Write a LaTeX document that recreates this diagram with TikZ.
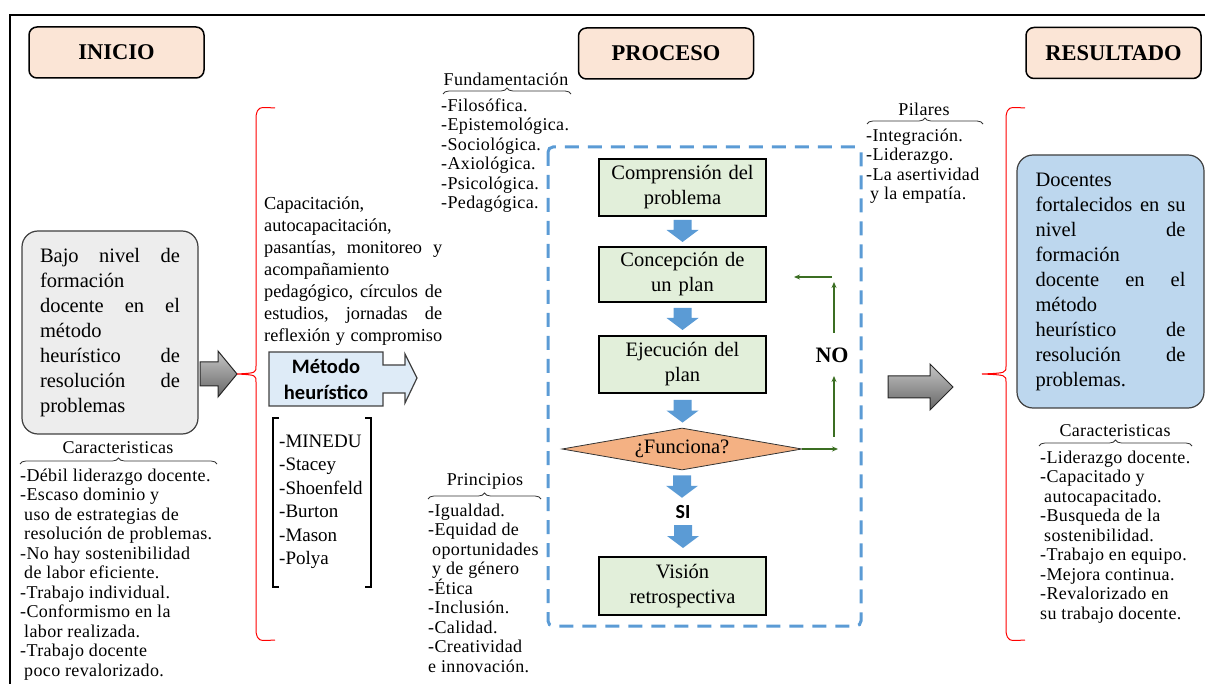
\documentclass[tikz,border=0pt]{standalone}
\usepackage{fontspec}
\setmainfont{Liberation Serif}
\newfontfamily\calib{Carlito}
\newfontfamily\lstfont[LetterSpace=2]{Liberation Serif}
\usetikzlibrary{shapes.geometric,decorations.pathreplacing,arrows.meta,calc}
\definecolor{peach}{HTML}{FBE5D6}
\definecolor{boxgray}{HTML}{EDEDED}
\definecolor{boxblue}{HTML}{BDD7EE}
\definecolor{flowgreen}{HTML}{E2EFDA}
\definecolor{diaorange}{HTML}{F4B183}
\definecolor{dashblue}{HTML}{5B9BD5}
\definecolor{arrowblue}{HTML}{5B9BD5}
\definecolor{mhblue}{HTML}{DEEBF7}
\definecolor{nogreen}{HTML}{3B6E22}
\newcommand\lstrut{\rule{0pt}{14pt}}
\newcommand\blockdown[4]{%
  \path[bluearrow] let \p1=(#1.south), \p2=(#2.north) in
   (\x1-9pt,\y1-#3pt) -- (\x1+9pt,\y1-#3pt) -- (\x1+9pt,\y2+#4pt+12pt) -- (\x1+16pt,\y2+#4pt+12pt)
   -- (\x1,\y2+#4pt) -- (\x1-16pt,\y2+#4pt+12pt) -- (\x1-9pt,\y2+#4pt+12pt) -- cycle;}
\begin{document}
\begin{tikzpicture}[x=1pt,y=-1pt,
  hdr/.style={draw=black, line width=1.5pt, rounded corners=8pt, fill=peach, minimum width=175pt, minimum height=51pt, font=\fontsize{22.5}{26}\selectfont\bfseries},
  flow/.style={draw=black, line width=2pt, fill=flowgreen, minimum width=167pt, text width=160pt, align=center, font=\fontsize{20.5}{25}\selectfont, inner sep=0pt},
  lst/.style={anchor=north west, inner sep=0pt, align=left, font=\lstfont\fontsize{18}{19.5}\selectfont},
  lsthead/.style={inner sep=0pt, font=\lstfont\fontsize{18}{20}\selectfont},
  hbrace/.style={decorate, decoration={brace, amplitude=6pt}, line width=0.8pt, draw=black!80},
  redbrace/.style={draw=red, line width=1pt},
  grayarrow/.style={draw=black!85, line width=1pt, top color=gray!45, bottom color=gray!80!black},
  bluearrow/.style={fill=arrowblue, draw=none},
  noarrow/.style={draw=nogreen, line width=1.5pt, -{Stealth[length=6pt,width=5pt]}},
  bigbox/.style={rounded corners=16pt, line width=1.2pt, draw=black!75, align=left, font=\fontsize{20.5}{25}\selectfont},
  mhbox/.style={draw=black!75, line width=1.2pt, fill=mhblue},
]
\useasboundingbox (0,0) rectangle (1205,684);
% frame
\draw[line width=2.5pt] (10,684) -- (10,15) -- (1205,15);

% headers
\node[hdr] (inicio) at (116.5,52.5) {INICIO};
\node[hdr] (proceso) at (666,53.5) {PROCESO};
\node[hdr] (resultado) at (1113.5,53) {RESULTADO};

% left box
\node[bigbox, fill=boxgray, minimum width=176pt, minimum height=203pt, text width=140pt] (bajo) at (110,332.5)
 {Bajo\hfill nivel\hfill de\\formación\\docente\hfill en\hfill el\\método\\heurístico\hfill de\\resolución\hfill de\\problemas};

% left characteristics
\node[lsthead] (carLh) at (118,448) {Caracteristicas};
\draw[hbrace] (20,464) -- (217,464);
\node[lst] (carL) at (20,467) {\lstrut-Débil liderazgo docente.\\-Escaso dominio y\\\hspace*{4pt}uso de estrategias de\\\hspace*{4pt}resolución de problemas.\\-No hay sostenibilidad\\\hspace*{4pt}de labor eficiente.\\-Trabajo individual.\\-Conformismo en la\\\hspace*{4pt}labor realizada.\\-Trabajo docente\\\hspace*{4pt}poco revalorizado.};

% gray arrow 1
\draw[grayarrow] (200,362) -- (218,362) -- (218,351) -- (237,374) -- (218,397) -- (218,386) -- (200,386) -- cycle;

% red brace left
\draw[redbrace] (275,108) .. controls (258,107) .. (256,116) -- (256,366) .. controls (256,373) .. (237,374) .. controls (256,375) .. (256,382) -- (256,632) .. controls (258,641) .. (275,640);

% capacitacion text
\node[anchor=north west, inner sep=0pt, text width=178pt, align=left, font=\fontsize{18.3}{22}\selectfont] (capac) at (264,195.5)
 {\lstrut Capacitación,\\autocapacitación,\\pasantías,\hfill monitoreo\hfill y\\acompañamiento\\pedagógico,\hfill círculos\hfill de\\estudios,\hfill jornadas\hfill de\\reflexión\hfill y\hfill compromiso};

% metodo heuristico callout
\draw[mhbox] (269,352) -- (383,352) -- (383,365) -- (405,365) -- (405,354) -- (417,378) -- (405,403) -- (405,393) -- (383,393) -- (383,406) -- (269,406) -- cycle;
\node[align=center, inner sep=0pt, font=\calib\bfseries\fontsize{20.5}{26}\selectfont] (mh) at (326,379) {Método\\heurístico};

% authors list with brackets
\draw[line width=1.8pt] (279,418) -- (273,418) -- (273,587) -- (279,587);
\draw[line width=1.8pt] (365,418) -- (371,418) -- (371,587) -- (365,587);
\node[anchor=north west, inner sep=0pt, align=left, font=\fontsize{19}{23.5}\selectfont] (autores) at (279,433)
 {\lstrut-MINEDU\\-Stacey\\-Shoenfeld\\-Burton\\-Mason\\-Polya};

% fundamentacion
\node[lsthead] (fundh) at (506,79) {Fundamentación};
\draw[hbrace] (443,94) -- (571,94);
\node[lst] (fund) at (441,97) {\lstrut-Filosófica.\\-Epistemológica.\\-Sociológica.\\-Axiológica.\\-Psicológica.\\-Pedagógica.};

% principios
\node[lsthead] (prinh) at (485,481) {Principios};
\draw[hbrace] (428,499) -- (541,499);
\node[lst] (prin) at (428,502) {\lstrut-Igualdad.\\-Equidad de\\\hspace*{4pt}oportunidades\\\hspace*{4pt}y de género\\-Ética\\-Inclusión.\\-Calidad.\\-Creatividad\\e innovación.};

% dashed process frame
\draw[draw=dashblue, line width=3pt, dash pattern=on 14pt off 9pt, rounded corners=5pt] (548,147) rectangle (861,626);

% flow
\node[flow, minimum height=57pt] (c1) at (682.5,187.5) {Comprensión del\\problema};
\node[flow, minimum height=55pt] (c2) at (682.5,274.5) {Concepción de\\un plan};
\node[flow, minimum height=57pt] (c3) at (682.5,364.5) {Ejecución del\\plan};
\node[diamond, draw=black!80, line width=0.8pt, fill=diaorange, minimum width=240pt, minimum height=42pt, aspect=5.7, inner sep=0pt, font=\fontsize{20.5}{24}\selectfont] (dia) at (682,449) {¿Funciona?};
\node[inner sep=0pt, minimum height=20pt, font=\calib\bfseries\fontsize{20}{22}\selectfont] (si) at (683,512) {SI};
\node[flow, minimum height=58pt] (c4) at (682.5,586) {Visión\\retrospectiva};

\blockdown{c1}{c2}{3}{4}
\blockdown{c2}{c3}{5}{5}
\blockdown{c3}{dia}{6}{5}
\blockdown{dia}{si}{5}{4}
\blockdown{si}{c4}{3}{8}

% NO loop
\node[inner sep=0pt, font=\fontsize{22}{24}\selectfont\bfseries] (no) at (832,355) {NO};
\coordinate (nA) at (838,447);
\coordinate (nB) at (834,437);
\coordinate (nC) at (834,376);
\coordinate (nD) at (834,333);
\coordinate (nE) at (834,282);
\coordinate (nF) at (832,277);
\draw[noarrow] (dia.east) -- (dia.east -| nA);
\draw[noarrow] (nB) -- (nC);
\draw[noarrow] (nD) -- (nE);
\draw[noarrow, shorten >=27pt] (nF) -- (nF -| c2.east);

% pilares
\node[lsthead] (pilh) at (924,109) {Pilares};
\draw[hbrace] (867,124) -- (983,124);
\node[lst] (pil) at (866,127) {\lstrut-Integración.\\-Liderazgo.\\-La asertividad\\\hspace*{4pt}y la empatía.};

% gray arrow 2
\draw[grayarrow] (888,376) -- (930,376) -- (930,364) -- (953,387) -- (930,410) -- (930,398) -- (888,398) -- cycle;

% red brace right
\draw[redbrace] (1025,108) .. controls (1008,107) .. (1006,116) -- (1006,366) .. controls (1006,373) .. (982,374) .. controls (1006,375) .. (1006,382) -- (1006,632) .. controls (1008,641) .. (1025,640);

% result box
\node[bigbox, fill=boxblue, minimum width=187pt, minimum height=253pt, text width=150pt] (docentes) at (1110.5,281.5)
 {Docentes\\fortalecidos\hfill en\hfill su\\nivel\hfill de\\formación\\docente\hfill en\hfill el\\método\\heurístico\hfill de\\resolución\hfill de\\problemas.};

% right characteristics
\node[lsthead] (carRh) at (1115,431) {Caracteristicas};
\draw[hbrace] (1039,446) -- (1192,446);
\node[lst] (carR) at (1040,449) {\lstrut-Liderazgo docente.\\-Capacitado y\\\hspace*{4pt}autocapacitado.\\-Busqueda de la\\\hspace*{4pt}sostenibilidad.\\-Trabajo en equipo.\\-Mejora continua.\\-Revalorizado en\\su trabajo docente.};
\end{tikzpicture}
\end{document}
